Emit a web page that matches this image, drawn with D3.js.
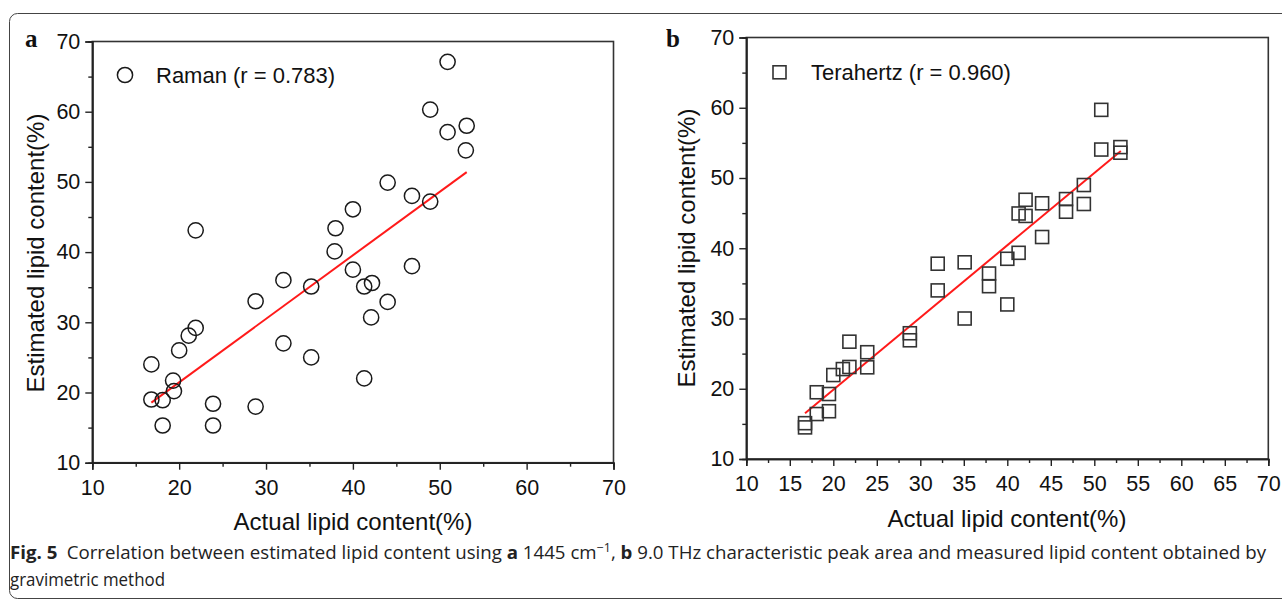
<!DOCTYPE html>
<html>
<head>
<meta charset="utf-8">
<script src="https://cdn.jsdelivr.net/npm/d3@7"></script>
<style>
  html, body { margin: 0; padding: 0; background: #fff; }
  svg { display: block; }
</style>
</head>
<body>
<svg id="chart" width="1282" height="599"></svg>
<script>
// ---------- data ----------
const ramanX = [50.9, 48.9, 50.9, 53.1, 53.0, 44.0, 46.8, 48.9, 40.0, 38.0, 37.9, 40.0, 46.8, 21.9, 41.3, 42.2, 44.0, 42.1,
                35.2, 35.2, 41.3, 32.0, 28.8, 32.0, 28.8, 21.9, 21.1, 20.0, 16.8, 19.3, 19.4, 16.8, 18.1, 18.1, 23.9, 23.9];
const ramanY = [67.1, 60.3, 57.1, 58.0, 54.5, 49.9, 48.0, 47.2, 46.1, 43.4, 40.1, 37.5, 38.0, 43.1, 35.1, 35.6, 32.9, 30.7,
                35.1, 25.0, 22.0, 36.0, 33.0, 27.0, 18.0, 29.2, 28.1, 26.0, 24.0, 21.7, 20.2, 19.0, 18.9, 15.3, 18.4, 15.3];
const thzX = [50.8, 50.8, 53.0, 53.0, 48.8, 48.8, 46.75, 46.75, 44.0, 44.0, 42.1, 42.1, 41.3, 41.3, 40.0, 40.0, 37.9, 37.9,
              35.1, 35.1, 32.0, 32.0, 28.8, 28.8, 23.9, 23.9, 21.85, 21.85, 21.1, 20.0, 19.5, 19.5, 18.1, 18.1, 16.75, 16.75];
const thzY = [59.7, 54.05, 54.4, 53.6, 49.0, 46.3, 47.0, 45.2, 46.4, 41.6, 46.9, 44.6, 44.95, 39.35, 38.5, 32.0, 36.4, 34.6,
              38.0, 30.0, 37.8, 34.0, 27.9, 26.9, 25.2, 23.05, 26.7, 23.1, 22.8, 21.95, 19.25, 16.8, 19.5, 16.4, 15.1, 14.5];
const ramanFit = [[16.8, 18.55], [53.1, 51.4]];
const thzFit = [[16.75, 16.5], [53.05, 53.85]];
const ticksA = [10, 20, 30, 40, 50, 60, 70];
const ticksBx = [10, 15, 20, 25, 30, 35, 40, 45, 50, 55, 60, 65, 70];
const ticksY = [10, 20, 30, 40, 50, 60, 70];
const legendA = "Raman (r = 0.783)";
const legendB = "Terahertz (r = 0.960)";
const xTitle = "Actual lipid content(%)";
const yTitle = "Estimated lipid content(%)";

const SANS = "'Liberation Sans', Arial, sans-serif";
const svg = d3.select("#chart");

// outer frame
svg.append("rect").attr("x", 9.5).attr("y", 13.5).attr("width", 1300).attr("height", 585)
  .attr("rx", 8).attr("fill", "none").attr("stroke", "#444").attr("stroke-width", 1);

function panel(opts) {
  const x = d3.scaleLinear().domain([10, 70]).range(opts.xr);
  const y = d3.scaleLinear().domain([10, 70]).range(opts.yr);
  const g = svg.append("g");

  // frame (top/right)
  g.append("rect").attr("x", opts.xr[0]).attr("y", opts.yr[1])
    .attr("width", opts.xr[1] - opts.xr[0]).attr("height", opts.yr[0] - opts.yr[1])
    .attr("fill", "none").attr("stroke", "#333").attr("stroke-width", 1.6);

  const xAxisMinor = d3.axisBottom(x).tickValues(opts.xMinor).tickSize(4).tickFormat("");
  const yAxisMinor = d3.axisLeft(y).tickValues(opts.yMinor).tickSize(4).tickFormat("");
  const xAxis = d3.axisBottom(x).tickValues(opts.xTicks).tickSize(7).tickPadding(10).tickFormat(d3.format("d"));
  const yAxis = d3.axisLeft(y).tickValues(ticksY).tickSize(7).tickPadding(5).tickFormat(d3.format("d"));

  const styleAxis = s => {
    s.select(".domain").attr("stroke", "#222").attr("stroke-width", 1.6);
    s.selectAll("line").attr("stroke", "#222").attr("stroke-width", 1.4);
    s.selectAll("text").style("font-size", "21.5px").style("fill", "#111").style("font-family", SANS);
  };
  [xAxisMinor, xAxis].forEach(ax => {
    g.append("g").attr("transform", `translate(0,${opts.yr[0]})`).call(ax).call(styleAxis);
  });
  [yAxisMinor, yAxis].forEach(ax => {
    g.append("g").attr("transform", `translate(${opts.xr[0]},0)`).call(ax).call(styleAxis);
  });

  // fit line
  g.append("line")
    .attr("x1", x(opts.fit[0][0])).attr("y1", y(opts.fit[0][1]))
    .attr("x2", x(opts.fit[1][0])).attr("y2", y(opts.fit[1][1]))
    .attr("stroke", "#ff1a1a").attr("stroke-width", 2);

  // markers
  const pts = opts.xs.map((v, i) => [v, opts.ys[i]]);
  if (opts.shape === "circle") {
    g.selectAll("circle.pt").data(pts).enter().append("circle").attr("class", "pt")
      .attr("cx", d => x(d[0])).attr("cy", d => y(d[1])).attr("r", 7.6)
      .attr("fill", "none").attr("stroke", "#1a1a1a").attr("stroke-width", 1.5);
  } else {
    const s = 13;
    g.selectAll("rect.pt").data(pts).enter().append("rect").attr("class", "pt")
      .attr("x", d => x(d[0]) - s / 2).attr("y", d => y(d[1]) - s / 2)
      .attr("width", s).attr("height", s)
      .attr("fill", "none").attr("stroke", "#333").attr("stroke-width", 1.6);
  }

  // legend
  if (opts.shape === "circle") {
    g.append("circle").attr("cx", opts.legend[0]).attr("cy", opts.legend[1]).attr("r", 7.6)
      .attr("fill", "none").attr("stroke", "#1a1a1a").attr("stroke-width", 1.5);
  } else {
    g.append("rect").attr("x", opts.legend[0] - 6.5).attr("y", opts.legend[1] - 6.5)
      .attr("width", 13).attr("height", 13)
      .attr("fill", "none").attr("stroke", "#333").attr("stroke-width", 1.6);
  }
  g.append("text").attr("x", opts.legendText[0]).attr("y", opts.legendText[1])
    .style("font-family", SANS).style("font-size", "22px").style("fill", "#111").text(opts.legendLabel);

  // axis titles
  g.append("text").attr("x", opts.xTitle[0]).attr("y", opts.xTitle[1])
    .attr("text-anchor", "middle").style("font-family", SANS).style("font-size", "24px").style("fill", "#111")
    .text(xTitle);
  g.append("text").attr("transform", `translate(${opts.yTitle[0]},${opts.yTitle[1]}) rotate(-90)`)
    .attr("text-anchor", "middle").style("font-family", SANS).style("font-size", "24px").style("fill", "#111")
    .text(yTitle);

  // panel letter
  g.append("text").attr("x", opts.letter[0]).attr("y", opts.letter[1])
    .style("font-family", "'Liberation Serif', 'Times New Roman', serif").style("font-weight", "bold")
    .style("font-size", "25px").style("fill", "#111").text(opts.letterText);
}

panel({
  xr: [92.3, 613.5], yr: [462.7, 41.5],
  xTicks: ticksA, xMinor: [15, 25, 35, 45, 55, 65], yMinor: [15, 25, 35, 45, 55, 65],
  xs: ramanX, ys: ramanY, fit: ramanFit, shape: "circle",
  legend: [125, 75], legendText: [156, 83], legendLabel: legendA,
  xTitle: [353, 530], yTitle: [44, 253], letter: [25, 47], letterText: "a"
});
panel({
  xr: [746.3, 1268.3], yr: [459, 37.5],
  xTicks: ticksBx, xMinor: [12.5, 17.5, 22.5, 27.5, 32.5, 37.5, 42.5, 47.5, 52.5, 57.5, 62.5, 67.5],
  yMinor: [15, 25, 35, 45, 55, 65],
  xs: thzX, ys: thzY, fit: thzFit, shape: "square",
  legend: [779.5, 72.3], legendText: [811, 80], legendLabel: legendB,
  xTitle: [1007, 527], yTitle: [695, 248], letter: [666, 47], letterText: "b"
});

// caption
const CAPF = "'Open Sans', 'Noto Sans', sans-serif";
const cap = svg.append("text").attr("x", 10).attr("y", 559)
  .style("font-family", CAPF).style("font-size", "18px").style("fill", "#222")
  .attr("textLength", 1256).attr("lengthAdjust", "spacingAndGlyphs");
cap.append("tspan").style("font-weight", "bold").text("Fig. 5");
cap.append("tspan").text("\u2002Correlation between estimated lipid content using ");
cap.append("tspan").style("font-weight", "bold").text("a");
cap.append("tspan").text(" 1445 cm");
cap.append("tspan").attr("dy", -7).style("font-size", "12px").text("\u22121");
cap.append("tspan").attr("dy", 7).text(", ");
cap.append("tspan").style("font-weight", "bold").text("b");
cap.append("tspan").text(" 9.0 THz characteristic peak area and measured lipid content obtained by");
svg.append("text").attr("x", 10).attr("y", 586)
  .style("font-family", CAPF).style("font-size", "18px").style("fill", "#222")
  .attr("textLength", 155).attr("lengthAdjust", "spacingAndGlyphs")
  .text("gravimetric method");
</script>
</body>
</html>
